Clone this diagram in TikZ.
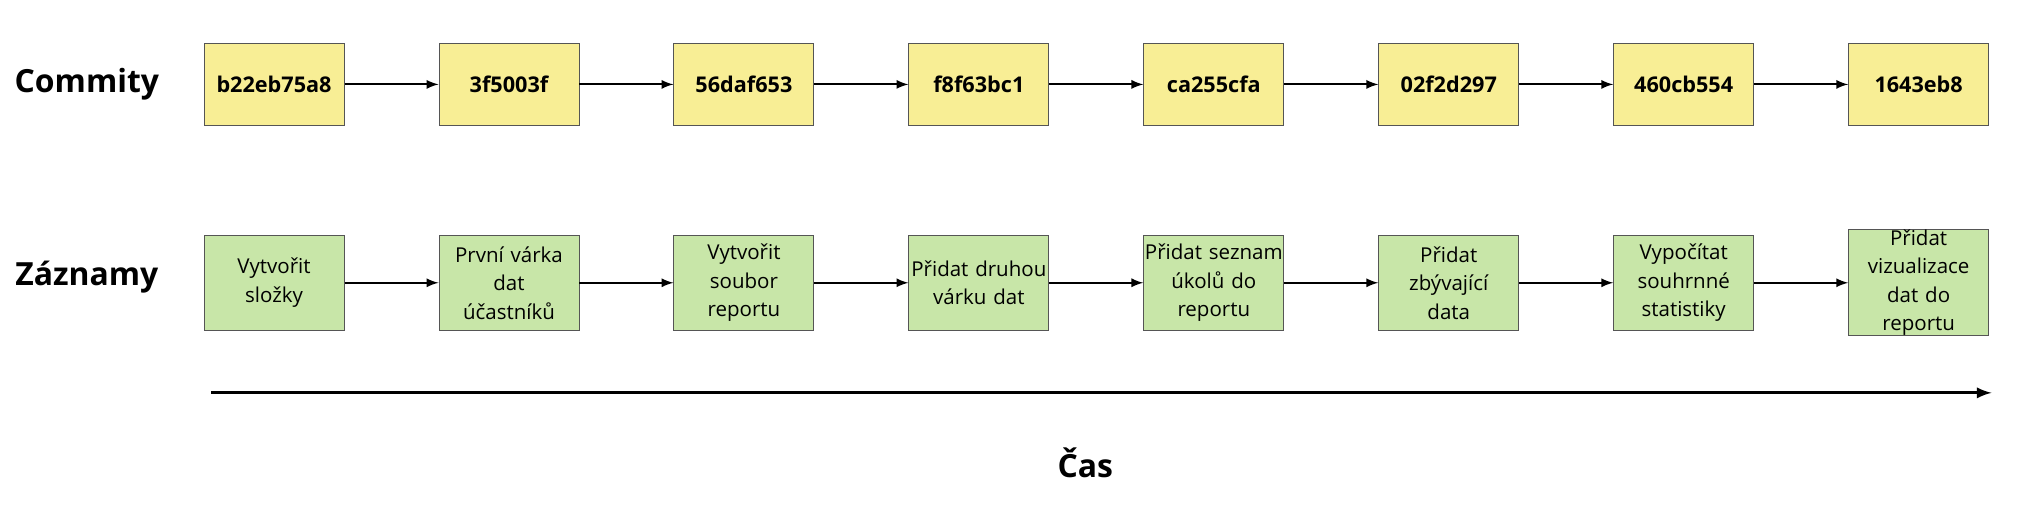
\documentclass[tikz,border=0pt]{standalone}
\usepackage{fontspec}
\setmainfont{Open Sans}
\usetikzlibrary{positioning}
\definecolor{commitfill}{HTML}{F8EE95}
\definecolor{recfill}{HTML}{C8E6A8}
\definecolor{boxline}{HTML}{555555}
\begin{document}
\begin{tikzpicture}[
	commit/.style={rectangle, draw=boxline, fill=commitfill, minimum width=2.16cm, minimum height=1.27cm, font=\fontsize{9.5}{12}\selectfont\bfseries},
	rec/.style={rectangle, draw=boxline, fill=recfill, minimum width=2.16cm, minimum height=1.47cm, text width=2.14cm, align=center, inner sep=0pt, font=\fontsize{9}{12.5}\selectfont},
	row/.style={font=\fontsize{14}{17}\selectfont\bfseries},
	node distance=1.45cm
	]
	\useasboundingbox (0,0) rectangle (31.36,-8.14);

	\node (c1) [commit, anchor=north west] at (3.14,-0.66) {b22eb75a8};
	\node (c2) [commit, right=of c1] {3f5003f};
	\node (c3) [commit, right=of c2] {56daf653};
	\node (c4) [commit, right=of c3] {f8f63bc1};
	\node (c5) [commit, right=of c4] {ca255cfa};
	\node (c6) [commit, right=of c5] {02f2d297};
	\node (c7) [commit, right=of c6] {460cb554};
	\node (c8) [commit, right=of c7] {1643eb8};

	\node (r1) [rec, anchor=north west] at (3.14,-3.62) {Vytvořit\\složky};
	\node (r2) [rec, right=of r1] {První várka\\dat\\účastníků};
	\node (r3) [rec, right=of r2] {Vytvořit\\soubor\\reportu};
	\node (r4) [rec, right=of r3] {Přidat druhou\\várku dat};
	\node (r5) [rec, right=of r4] {Přidat seznam\\úkolů do\\reportu};
	\node (r6) [rec, right=of r5] {Přidat\\zbývající\\data};
	\node (r7) [rec, right=of r6] {Vypočítat\\souhrnné\\statistiky};
	\node (r8) [rec, right=of r7] {Přidat\\vizualizace\\dat do reportu};

	\node (commity) [row] at (1.34,-1.30) {Commity};
	\node (zaznamy) [row] at (1.34,-4.28) {Záznamy};

	\coordinate (tstart) at (3.26,-6.06);
	\coordinate (tend) at (30.72,-6.06);
	\node (cas) [font=\fontsize{14}{17}\selectfont\bfseries] at (16.74,-7.14) {Čas};

	\foreach \a/\b in {1/2,2/3,3/4,4/5,5/6,6/7,7/8} {
		\draw [-latex, thick] (c\a) -- (c\b);
		\draw [-latex, thick] (r\a) -- (r\b);
	}
	\draw [-latex, very thick] (tstart) -- (tend);
\end{tikzpicture}
\end{document}
